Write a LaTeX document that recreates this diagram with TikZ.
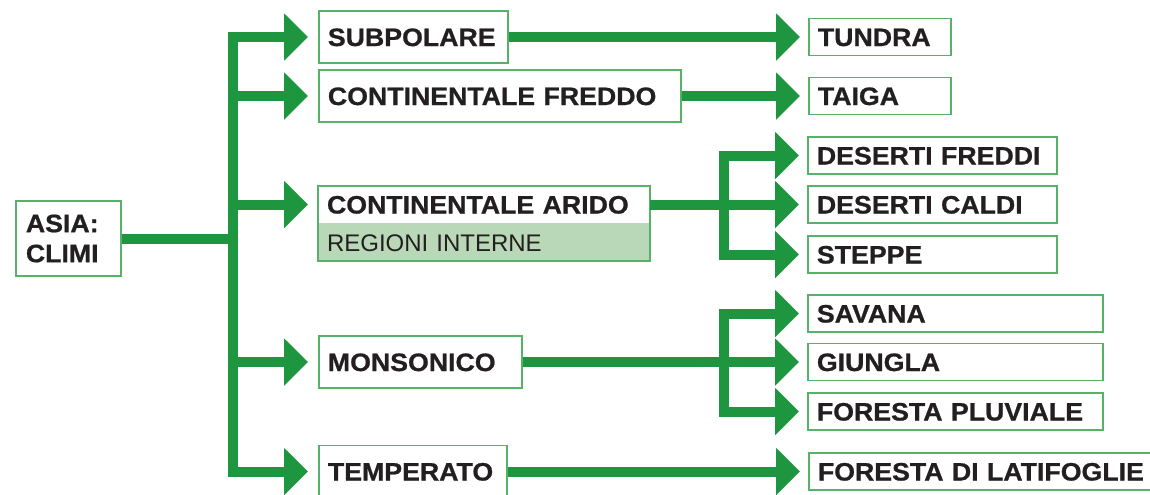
\documentclass[tikz,border=0pt]{standalone}
\usepackage{fontspec}
\setmainfont{Liberation Sans}
\newfontfamily\heavyfont{Liberation Sans}[FakeStretch = 1.06, BoldFeatures = {FakeBold = 0.8}]
\usetikzlibrary{arrows.meta}
\usetikzlibrary{positioning}

\definecolor{arrowgreen}{RGB}{30,150,64}
\definecolor{boxgreen}{RGB}{85,178,104}
\definecolor{regiongreen}{RGB}{185,216,183}
\definecolor{textblack}{RGB}{35,31,32}

\tikzset{
    plainbox/.style = {draw = boxgreen, line width = 0.9pt, anchor = west, align = left,
        inner xsep = 4.5pt, text = textblack,
        font = \heavyfont\bfseries\fontsize{12.6}{15}\selectfont},
    box/.style = {plainbox, inner ysep = 0pt, text height = 9pt, text depth = 0pt},
    bigbox/.style = {box, minimum height = 26pt},
    smallbox/.style = {box, minimum height = 18.5pt},
    shaft/.style = {arrowgreen, line width = 5pt},
    arr/.style = {shaft, -{Triangle[length = 12pt, width = 23pt]}, shorten > = #1},
    arr/.default = 5pt
}

\begin{document}
\begin{tikzpicture}[x = 0.5pt, y = -0.5pt]

    \useasboundingbox (0,0) rectangle (1150,494);

    % root
    \node (asia) at (15,238.5) [plainbox, inner xsep = 5pt, minimum height = 37.5pt, text width = 42.5pt] {ASIA:\\CLIMI};
    \coordinate (hub) at (233,238.5);

    % climates
    \node (subpolare) at (318,37)    [bigbox, text width = 85.5pt] {SUBPOLARE};
    \node (freddo)    at (318,96)    [bigbox, text width = 172pt] {CONTINENTALE FREDDO};
    \node (arido)     at (318,204.5) [box, draw = none, outer sep = 0pt, minimum height = 18.75pt, text width = 157pt] {CONTINENTALE ARIDO};
    \node (regioni)   [box, draw = none, outer sep = 0pt, fill = regiongreen, minimum height = 18.75pt, text width = 157pt,
                       font = \fontsize{12}{14}\selectfont, below = 0pt of arido] {REGIONI INTERNE};
    \draw[boxgreen, line width = 0.9pt] (arido.north west) rectangle (regioni.south east);
    \node (monsonico) at (318,362)   [bigbox, text width = 92.5pt] {MONSONICO};
    \node (temperato) at (318,471.5) [bigbox, text width = 85pt] {TEMPERATO};

    % landscapes
    \node (tundra)     at (808,37)    [smallbox, text width = 62pt] {TUNDRA};
    \node (taiga)      at (808,96)    [smallbox, text width = 62pt] {TAIGA};
    \node (desfreddi)  at (807,155.5) [smallbox, text width = 115.5pt] {DESERTI FREDDI};
    \node (descaldi)   at (807,204.5) [smallbox, text width = 115.5pt] {DESERTI CALDI};
    \node (steppe)     at (807,254.5) [smallbox, text width = 115.5pt] {STEPPE};
    \node (savana)     at (807,313.5) [smallbox, text width = 138.5pt] {SAVANA};
    \node (giungla)    at (807,362)   [smallbox, text width = 138.5pt] {GIUNGLA};
    \node (pluviale)   at (807,411.5) [smallbox, text width = 138.5pt] {FORESTA PLUVIALE};
    \node (latifoglie) at (808,471.5) [smallbox, text width = 170pt] {FORESTA DI LATIFOGLIE};

    % arrows
    \draw[shaft] (asia.east) -- (hub);
    \foreach \n in {subpolare, freddo, arido, monsonico, temperato}
        \draw[arr] (hub) |- (\n.west);

    \draw[arr = 4pt] (subpolare.east) -- (tundra.west);
    \draw[arr = 4pt] (freddo.east) -- (taiga.west);
    \draw[arr = 4pt] (temperato.east) -- (latifoglie.west);

    \coordinate (aridofork) at (723.5,204.5);
    \draw[shaft] (arido.east) -- (aridofork);
    \foreach \n in {desfreddi, descaldi, steppe}
        \draw[arr = 4pt] (aridofork) |- (\n.west);

    \coordinate (monsfork) at (723.5,362);
    \draw[shaft] (monsonico.east) -- (monsfork);
    \foreach \n in {savana, giungla, pluviale}
        \draw[arr = 4pt] (monsfork) |- (\n.west);

\end{tikzpicture}
\end{document}
